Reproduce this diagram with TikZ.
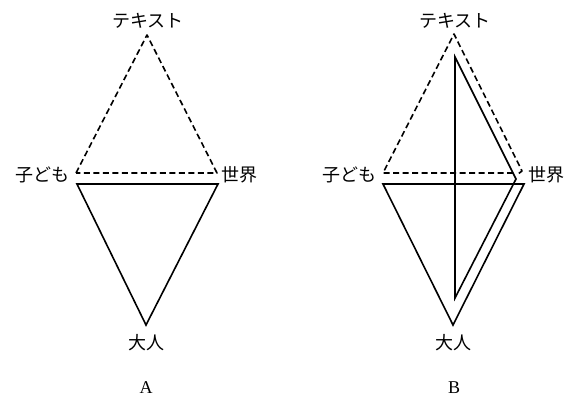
\documentclass[tikz,border=0pt]{standalone}
\usepackage{fontspec}
\newfontfamily\jpfont{Noto Sans CJK JP}
\setmainfont{Liberation Serif}
\begin{document}
\begin{tikzpicture}[x=1pt,y=-1pt,
  lbl/.style={font=\jpfont\fontsize{18}{20}\selectfont, inner sep=0pt},
  captxt/.style={font=\fontsize{18}{20}\selectfont, inner sep=0pt},
  dsh/.style={line width=1.6pt, dash pattern=on 6pt off 3.5pt, line join=round},
  sld/.style={line width=1.6pt, line join=miter}]
\useasboundingbox (0,0) rectangle (569,396);
% ---- Panel A ----
\coordinate (At) at (147,35);
\coordinate (Al) at (76,173);
\coordinate (Ar) at (217,173);
\coordinate (Sl) at (77,184);
\coordinate (Sr) at (218,184);
\coordinate (Ab) at (146,325);
\draw[dsh] (Al) -- (At) -- (Ar) -- cycle;
\draw[sld] (Sl) -- (Sr) -- (Ab) -- cycle;
\node[lbl] (tA) at (148,21) {テキスト};
\node[lbl, anchor=east] (cA) at (70,175) {子ども};
\node[lbl, anchor=west] (wA) at (221,175) {世界};
\node[lbl] (oA) at (146,343) {大人};
\node[captxt, anchor=base] (capA) at (146,393) {A};
% ---- Panel B ----
\coordinate (Bt) at (454,34);
\coordinate (Bl) at (383,173);
\coordinate (Br) at (522,171);
\coordinate (Bh) at (518,174);
\coordinate (Bm) at (513,173);
\coordinate (Tl) at (383,184);
\coordinate (Tr) at (524,184);
\coordinate (Bb) at (453,325);
\coordinate (It) at (455,57);
\coordinate (Ir) at (516,179);
\coordinate (Ib) at (455,298);
\draw[dsh] (Bm) -- (Bl) -- (Bt) -- (Br) -- (Bh);
\draw[sld] (Tl) -- (Tr) -- (Bb) -- cycle;
\draw[sld] (It) -- (Ir) -- (Ib) -- cycle;
\node[lbl] (tB) at (455,21) {テキスト};
\node[lbl, anchor=east] (cB) at (377,175) {子ども};
\node[lbl, anchor=west] (wB) at (528,175) {世界};
\node[lbl] (oB) at (453,343) {大人};
\node[captxt, anchor=base] (capB) at (454,393) {B};
\end{tikzpicture}
\end{document}
